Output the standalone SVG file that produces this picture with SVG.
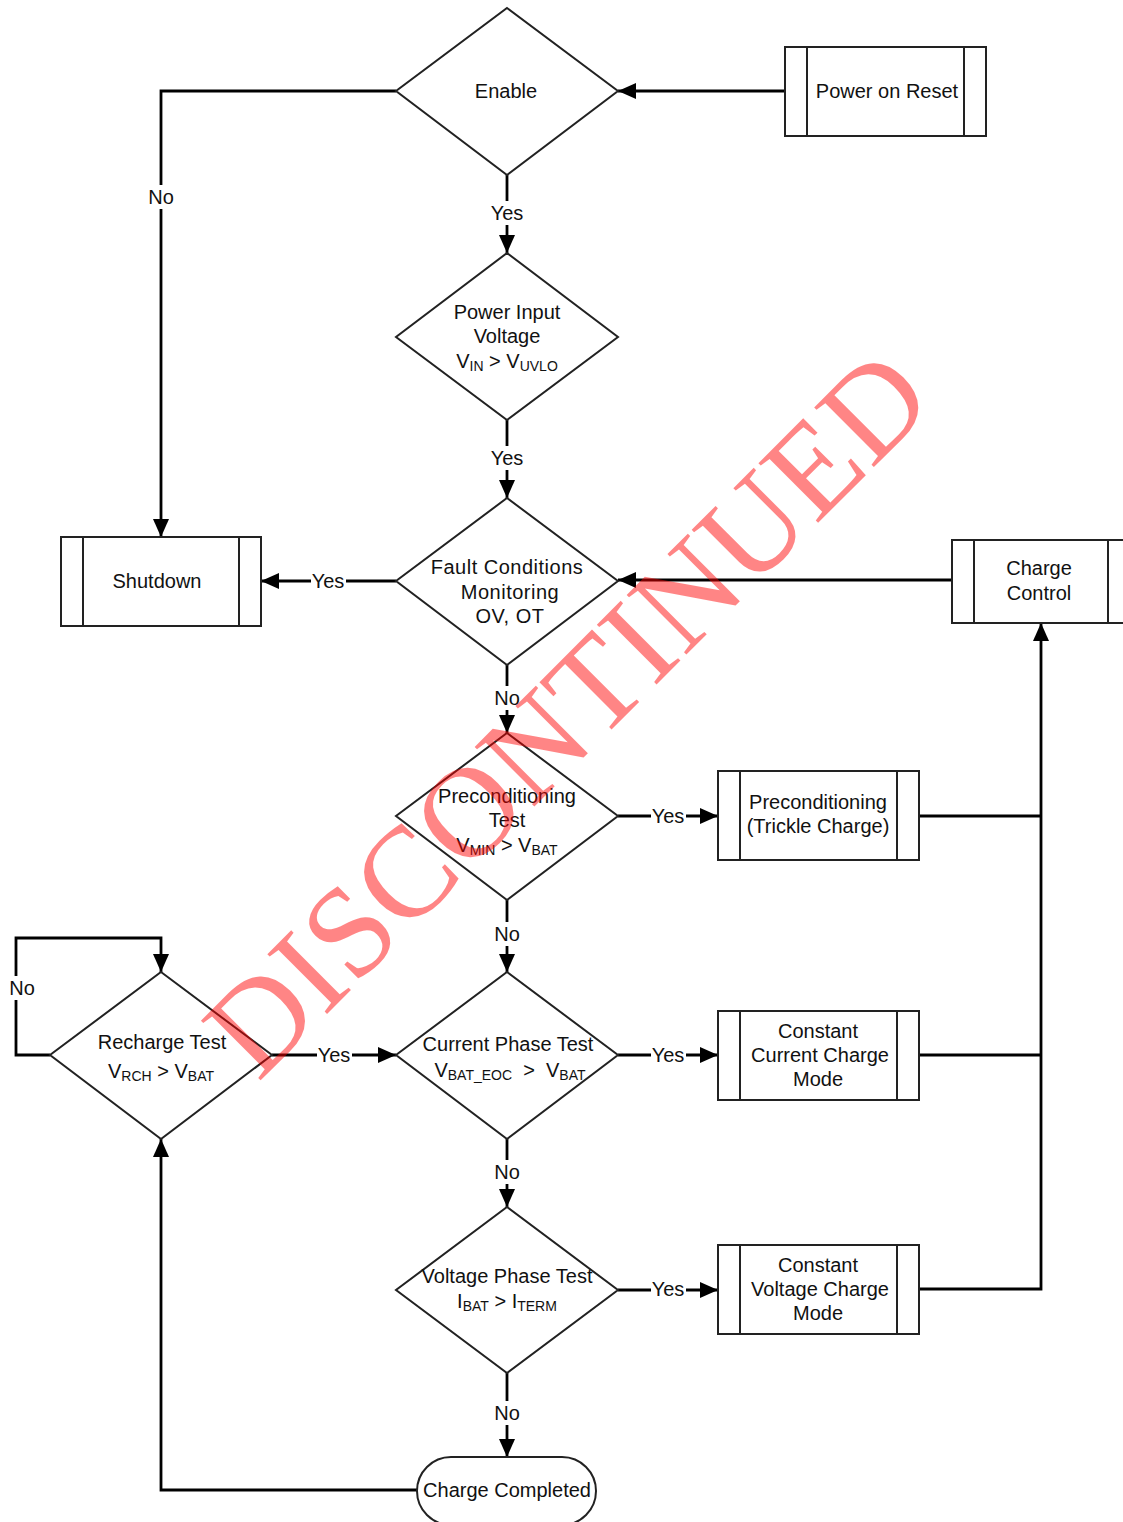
<svg xmlns="http://www.w3.org/2000/svg" width="1123" height="1522" viewBox="0 0 1123 1522">
<style>
.shape{fill:#fff;stroke:#222;stroke-width:2}
.inner{stroke:#222;stroke-width:2;fill:none}
.wire{fill:none;stroke:#000;stroke-width:2.8}
.t{font-family:"Liberation Sans",Arial,sans-serif;font-size:20px;fill:#111;text-anchor:middle}
.s{font-size:14px}
.lbl{font-family:"Liberation Sans",Arial,sans-serif;font-size:20px;fill:#111;text-anchor:middle}
.bg{fill:#fff}
.wm{font-family:"Liberation Serif","Times New Roman",serif;font-size:129px;fill:#ff0000;fill-opacity:0.48}
</style>
<defs>
<marker id="ah" viewBox="0 0 18 16" refX="18" refY="8" markerWidth="18" markerHeight="16" markerUnits="userSpaceOnUse" orient="auto">
<path d="M0,0 L18,8 L0,16 z" fill="#000"/>
</marker>
</defs>
<rect width="1123" height="1522" fill="#fff"/>

<g id="connectors">
<path class="wire" d="M785,91 H618" marker-end="url(#ah)"/>
<path class="wire" d="M396,91 H161 V537" marker-end="url(#ah)"/>
<path class="wire" d="M507,175 V253" marker-end="url(#ah)"/>
<path class="wire" d="M507,420 V498" marker-end="url(#ah)"/>
<path class="wire" d="M396,581 H261" marker-end="url(#ah)"/>
<path class="wire" d="M952,580 H618" marker-end="url(#ah)"/>
<path class="wire" d="M507,665 V733" marker-end="url(#ah)"/>
<path class="wire" d="M618,816 H718" marker-end="url(#ah)"/>
<path class="wire" d="M919,816 H1041"/>
<path class="wire" d="M507,900 V972" marker-end="url(#ah)"/>
<path class="wire" d="M618,1055 H718" marker-end="url(#ah)"/>
<path class="wire" d="M919,1055 H1041"/>
<path class="wire" d="M507,1139 V1207" marker-end="url(#ah)"/>
<path class="wire" d="M618,1290 H718" marker-end="url(#ah)"/>
<path class="wire" d="M919,1289 H1041 V623" marker-end="url(#ah)"/>
<path class="wire" d="M507,1373 V1457" marker-end="url(#ah)"/>
<path class="wire" d="M417,1490 H161 V1139" marker-end="url(#ah)"/>
<path class="wire" d="M272,1055 H396" marker-end="url(#ah)"/>
<path class="wire" d="M50,1055 H16 V938 H161 V972" marker-end="url(#ah)"/>
<rect class="bg" x="147" y="185" width="29" height="24"/><text class="lbl" x="161" y="204">No</text>
<rect class="bg" x="489" y="201" width="36" height="24"/><text class="lbl" x="507" y="220">Yes</text>
<rect class="bg" x="489" y="446" width="36" height="24"/><text class="lbl" x="507" y="465">Yes</text>
<rect class="bg" x="311" y="569" width="35" height="24"/><text class="lbl" x="328" y="588">Yes</text>
<rect class="bg" x="493" y="686" width="28" height="24"/><text class="lbl" x="507" y="705">No</text>
<rect class="bg" x="651" y="804" width="35" height="24"/><text class="lbl" x="668" y="823">Yes</text>
<rect class="bg" x="493" y="922" width="28" height="24"/><text class="lbl" x="507" y="941">No</text>
<rect class="bg" x="651" y="1043" width="35" height="24"/><text class="lbl" x="668" y="1062">Yes</text>
<rect class="bg" x="317" y="1043" width="35" height="24"/><text class="lbl" x="334" y="1062">Yes</text>
<rect class="bg" x="493" y="1160" width="28" height="24"/><text class="lbl" x="507" y="1179">No</text>
<rect class="bg" x="651" y="1277" width="35" height="24"/><text class="lbl" x="668" y="1296">Yes</text>
<rect class="bg" x="493" y="1401" width="28" height="24"/><text class="lbl" x="507" y="1420">No</text>
<rect class="bg" x="8" y="976" width="28" height="24"/><text class="lbl" x="22" y="995">No</text>
</g>

<g id="enable">
<polygon class="shape" points="507,8 618,91 507,175 396,91"/>
<text class="t" x="506" y="98">Enable</text>
</g>
<g id="power-on-reset">
<rect class="shape" x="785" y="47" width="201" height="89"/>
<line class="inner" x1="807" y1="47" x2="807" y2="136"/><line class="inner" x1="964" y1="47" x2="964" y2="136"/>
<text class="t" x="887" y="98">Power on Reset</text>
</g>
<g id="power-input">
<polygon class="shape" points="507,253 618,337 507,420 396,337"/>
<text class="t" x="507" y="319">Power Input</text>
<text class="t" x="507" y="343">Voltage</text>
<text class="t" x="507" y="368">V<tspan class="s" dy="3">IN</tspan><tspan dy="-3"> &gt; V</tspan><tspan class="s" dy="3">UVLO</tspan></text>
</g>
<g id="fault">
<polygon class="shape" points="507,498 618,581 507,665 396,581"/>
<text class="t" x="507" y="574" letter-spacing="0.5">Fault Conditions</text>
<text class="t" x="510" y="599" letter-spacing="0.5">Monitoring</text>
<text class="t" x="510" y="623" letter-spacing="0.5">OV, OT</text>
</g>
<g id="shutdown">
<rect class="shape" x="61" y="537" width="200" height="89"/>
<line class="inner" x1="83" y1="537" x2="83" y2="626"/><line class="inner" x1="239" y1="537" x2="239" y2="626"/>
<text class="t" x="157" y="588">Shutdown</text>
</g>
<g id="charge-control">
<rect class="shape" x="952" y="540" width="190" height="83"/>
<line class="inner" x1="974" y1="540" x2="974" y2="623"/><line class="inner" x1="1108" y1="540" x2="1108" y2="623"/>
<text class="t" x="1039" y="575">Charge</text>
<text class="t" x="1039" y="600">Control</text>
</g>
<g id="precond-test">
<polygon class="shape" points="507,733 618,816 507,900 396,816"/>
<text class="t" x="507" y="803">Preconditioning</text>
<text class="t" x="507" y="827">Test</text>
<text class="t" x="507" y="852">V<tspan class="s" dy="3">MIN</tspan><tspan dy="-3"> &gt; V</tspan><tspan class="s" dy="3">BAT</tspan></text>
</g>
<g id="precond-box">
<rect class="shape" x="718" y="771" width="201" height="89"/>
<line class="inner" x1="740" y1="771" x2="740" y2="860"/><line class="inner" x1="897" y1="771" x2="897" y2="860"/>
<text class="t" x="818" y="809">Preconditioning</text>
<text class="t" x="818" y="833">(Trickle Charge)</text>
</g>
<g id="current-test">
<polygon class="shape" points="507,972 618,1055 507,1139 396,1055"/>
<text class="t" x="508" y="1051">Current Phase Test</text>
<text class="t" x="510" y="1077" xml:space="preserve">V<tspan class="s" dy="3">BAT_EOC</tspan><tspan dy="-3">  &gt;  V</tspan><tspan class="s" dy="3">BAT</tspan></text>
</g>
<g id="cc-box">
<rect class="shape" x="718" y="1011" width="201" height="89"/>
<line class="inner" x1="740" y1="1011" x2="740" y2="1100"/><line class="inner" x1="897" y1="1011" x2="897" y2="1100"/>
<text class="t" x="818" y="1038">Constant</text>
<text class="t" x="820" y="1062">Current Charge</text>
<text class="t" x="818" y="1086">Mode</text>
</g>
<g id="recharge-test">
<polygon class="shape" points="161,972 272,1055 161,1139 50,1055"/>
<text class="t" x="162" y="1049">Recharge Test</text>
<text class="t" x="161" y="1078">V<tspan class="s" dy="3">RCH</tspan><tspan dy="-3"> &gt; V</tspan><tspan class="s" dy="3">BAT</tspan></text>
</g>
<g id="voltage-test">
<polygon class="shape" points="507,1207 618,1290 507,1373 396,1290"/>
<text class="t" x="507" y="1283">Voltage Phase Test</text>
<text class="t" x="507" y="1308">I<tspan class="s" dy="3">BAT</tspan><tspan dy="-3"> &gt; I</tspan><tspan class="s" dy="3">TERM</tspan></text>
</g>
<g id="cv-box">
<rect class="shape" x="718" y="1245" width="201" height="89"/>
<line class="inner" x1="740" y1="1245" x2="740" y2="1334"/><line class="inner" x1="897" y1="1245" x2="897" y2="1334"/>
<text class="t" x="818" y="1272">Constant</text>
<text class="t" x="820" y="1296">Voltage Charge</text>
<text class="t" x="818" y="1320">Mode</text>
</g>
<g id="charge-completed">
<rect class="shape" x="417" y="1457" width="179" height="68" rx="34" ry="34"/>
<text class="t" x="507" y="1497">Charge Completed</text>
</g>

<text class="wm" x="258" y="1083" transform="rotate(-45 258 1083)">DISCONTINUED</text>
</svg>
